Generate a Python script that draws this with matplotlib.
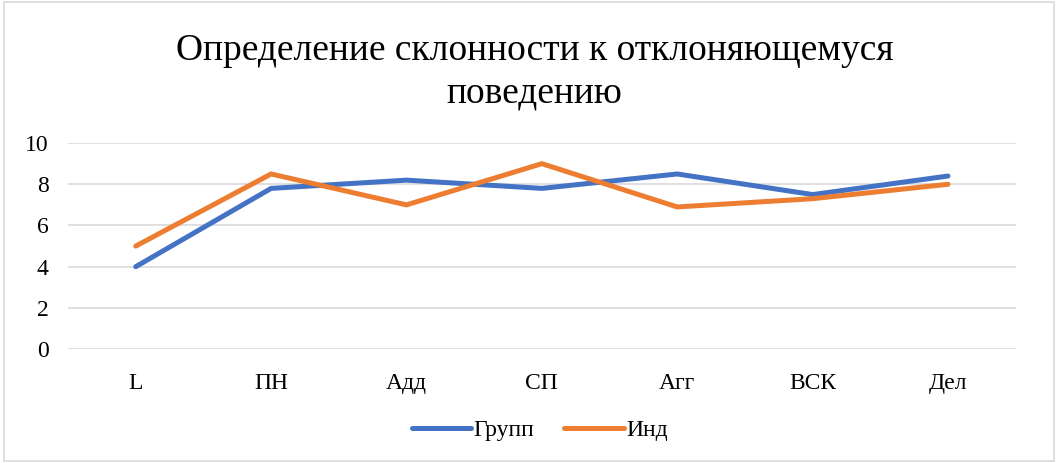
"""Line chart: Групп vs Инд across deviant-behaviour scales."""
import matplotlib
matplotlib.use("Agg")
import matplotlib.pyplot as plt
from matplotlib.patches import Rectangle

CATEGORIES = ["L", "ПН", "Адд", "СП", "Агг", "ВСК", "Дел"]
GROUP = [4.0, 7.8, 8.2, 7.8, 8.5, 7.5, 8.4]
IND = [5.0, 8.5, 7.0, 9.0, 6.9, 7.3, 8.0]
SERIES = [("Групп", GROUP, "#4472C4"), ("Инд", IND, "#ED7D31")]
YTICKS = [0, 2, 4, 6, 8, 10]

plt.rcParams["font.family"] = ["Liberation Serif", "DejaVu Serif"]


def main():
    fig = plt.figure(figsize=(10.58, 4.63), dpi=100)
    fig.patches.append(Rectangle((0.004, 0.004), 0.992, 0.992, transform=fig.transFigure,
                                 fill=False, edgecolor="#D9D9D9", lw=1.2))
    ax = fig.add_axes([0.0643, 0.246, 0.8957, 0.445])
    x = range(len(CATEGORIES))
    for name, vals, col in SERIES:
        ax.plot(x, vals, color=col, lw=3.6, solid_capstyle="round",
                solid_joinstyle="miter", label=name)
    ax.set_xlim(-0.5, len(CATEGORIES) - 0.5)
    ax.set_ylim(0, 10)
    ax.set_yticks(YTICKS)
    ax.set_xticks(list(x))
    ax.set_xticklabels(CATEGORIES)
    ax.tick_params(length=0, labelsize=17, colors="#000000")
    ax.tick_params(axis="x", pad=17)
    ax.tick_params(axis="y", pad=14)
    ax.grid(axis="y", color="#D9D9D9", lw=1.2)
    ax.set_axisbelow(True)
    for s in ax.spines.values():
        s.set_visible(False)
    fig.text(0.505, 0.845, "Определение склонности к отклоняющемуся\nповедению",
             ha="center", va="center", fontsize=27, linespacing=1.3)
    fig.legend(loc="center", bbox_to_anchor=(0.51, 0.07), ncol=2, frameon=False,
               fontsize=17, handlelength=2.5, handletextpad=0.1, columnspacing=1.3)
    fig.savefig("out.png", dpi=100)


if __name__ == "__main__":
    main()
